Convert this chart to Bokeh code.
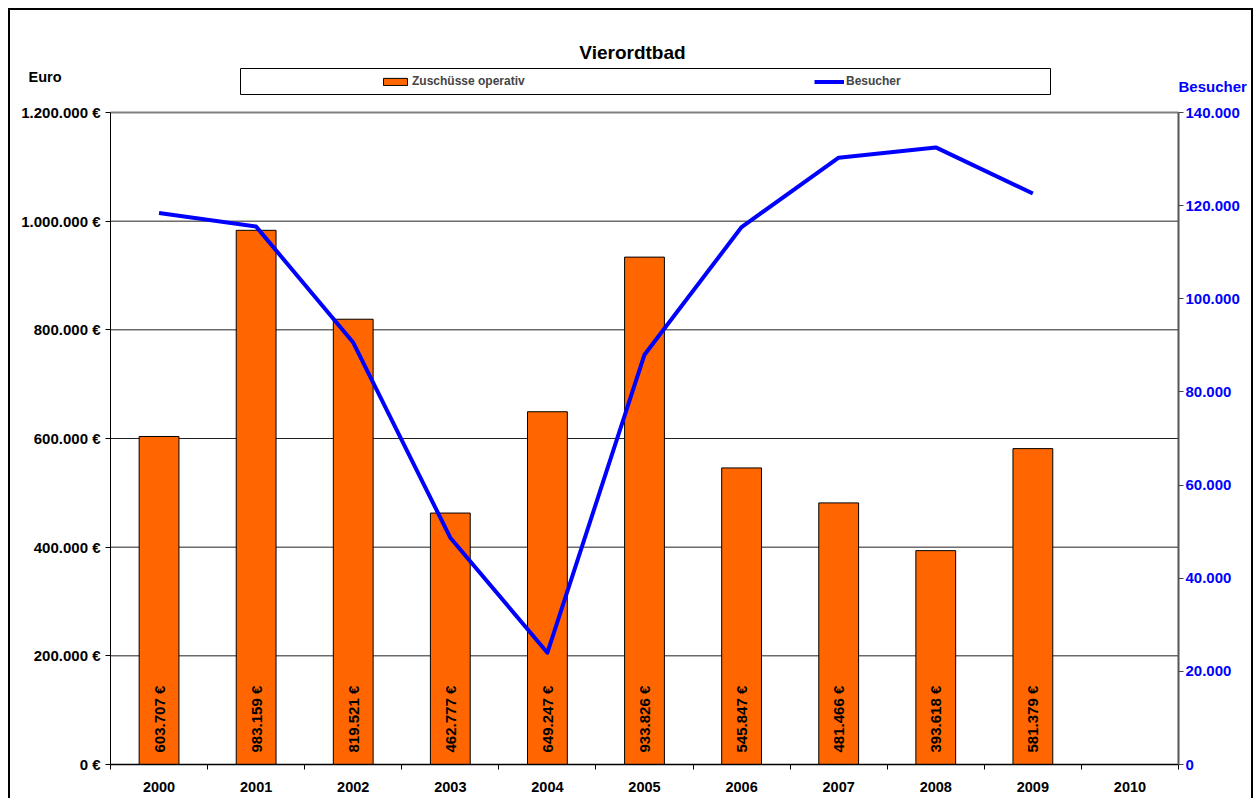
import math
from bokeh.plotting import figure
from bokeh.models import (Range1d, LinearAxis, FixedTicker, ColumnDataSource, Label,
                          BoxAnnotation, Legend, LegendItem)
from bokeh.core.properties import value
from bokeh.embed import file_html
from bokeh.resources import INLINE

# ---------------- data ----------------
years = ["2000", "2001", "2002", "2003", "2004", "2005", "2006", "2007", "2008", "2009", "2010"]
zuschuesse = [603707, 983159, 819521, 462777, 649247, 933826, 545847, 481466, 393618, 581379]
besucher = [118400, 115500, 90600, 48700, 24000, 88000, 115400, 130300, 132500, 122600]
euro_ticks = [0, 200000, 400000, 600000, 800000, 1000000, 1200000]
besucher_ticks = [0, 20000, 40000, 60000, 80000, 100000, 120000, 140000]

FONT = "Liberation Sans"
BLUE = "#0000FF"
ORANGE = "#FF6600"

# ---------------- layout (page pixels) ----------------
CANVAS_L, CANVAS_T, CANVAS_R, CANVAS_B = 10, 10, 1255, 800
W, H = CANVAS_R - CANVAS_L, CANVAS_B - CANVAS_T
PLOT_L, PLOT_R, PLOT_T, PLOT_B = 110, 1178, 112, 764
EURO_MAX = euro_ticks[-1]
VIS_MAX = besucher_ticks[-1]
n = len(years)
px_per_x = (PLOT_R - PLOT_L) / n


def dx(px):
    return -0.5 + (px - PLOT_L) / px_per_x


def dy(py):
    return EURO_MAX * (PLOT_B - py) / (PLOT_B - PLOT_T)


def dv(py):
    return VIS_MAX * (PLOT_B - py) / (PLOT_B - PLOT_T)


def de(v):
    return f"{v:,}".replace(",", ".")


idx = list(range(n))
bar_src = ColumnDataSource(dict(
    x=idx[:len(zuschuesse)],
    top=zuschuesse,
    lab=[de(v) + " €" for v in zuschuesse],
))
line_src = ColumnDataSource(dict(x=idx[:len(besucher)], y=besucher))
grid_src = ColumnDataSource(dict(y=euro_ticks[1:-1]))
top_src = ColumnDataSource(dict(y=euro_ticks[-1:]))

p = figure(width=W, height=H, output_backend="svg", toolbar_location=None,
           x_range=Range1d(dx(CANVAS_L), dx(CANVAS_R)),
           y_range=Range1d(dy(CANVAS_B), dy(CANVAS_T)),
           min_border_left=0, min_border_right=0, min_border_top=0, min_border_bottom=0,
           styles={"border-top": "2px solid black", "border-left": "2px solid black",
                   "border-right": "2px solid black",
                   "margin-left": "8px", "margin-top": "8px"})
p.background_fill_color = "white"
p.border_fill_color = "white"
p.outline_line_color = None
p.extra_y_ranges = {"vis": Range1d(dv(CANVAS_B), dv(CANVAS_T))}

# grid lines (drawn over the category span only)
p.xgrid.visible = False
p.ygrid.visible = False
p.segment(x0=-0.5, x1=n - 0.5, y0="y", y1="y", source=grid_src,
          line_color="#222222", line_width=1, level="underlay")
p.segment(x0=-0.5, x1=n - 0.5, y0="y", y1="y", source=top_src,
          line_color="#808080", line_width=2, level="underlay")

# bars
bars = p.vbar(x="x", top="top", width=0.41, source=bar_src, fill_color=ORANGE,
              line_color="black", line_width=1)
# bar labels
p.text(x="x", y=0, text="lab", source=bar_src, angle=math.pi / 2,
       text_align="left", text_baseline="middle", y_offset=-12,
       text_font=value(FONT), text_font_size="15px", text_font_style="bold",
       text_color="black")

# line
ln = p.line(x="x", y="y", source=line_src, y_range_name="vis", line_color=BLUE,
            line_width=4, line_join="round")

# axes
xa = p.xaxis[0]
xa.fixed_location = 0
xa.bounds = (-0.5, n - 0.5)
xa.ticker = FixedTicker(ticks=idx, minor_ticks=[i - 0.5 for i in idx] + [n - 0.5])
xa.major_label_overrides = {i: y for i, y in enumerate(years)}
xa.major_tick_out = 0
xa.major_tick_in = 0
xa.minor_tick_out = 5
xa.minor_tick_in = 0
xa.minor_tick_line_color = "black"
xa.axis_line_color = "black"
xa.axis_line_width = 1.5
xa.major_label_standoff = 12
xa.major_label_text_font = FONT
xa.major_label_text_font_size = "14.5px"
xa.major_label_text_font_style = "bold"
xa.major_label_text_color = "black"

ya = p.yaxis[0]
ya.fixed_location = -0.5
ya.bounds = (0, EURO_MAX)
ya.ticker = FixedTicker(ticks=euro_ticks)
ya.major_label_overrides = {t: de(t) + " €" for t in euro_ticks}
ya.minor_tick_line_color = None
ya.major_tick_out = 5
ya.major_tick_in = 0
ya.major_tick_line_color = "black"
ya.axis_line_color = "black"
ya.axis_line_width = 1
ya.major_label_standoff = 5
ya.major_label_text_font = FONT
ya.major_label_text_font_size = "15px"
ya.major_label_text_font_style = "bold"
ya.major_label_text_color = "black"

ra = LinearAxis(y_range_name="vis", ticker=FixedTicker(ticks=besucher_ticks),
                bounds=(0, VIS_MAX), fixed_location=n - 0.5)
ra.major_label_overrides = {t: de(t) for t in besucher_ticks}
ra.minor_tick_line_color = None
ra.major_tick_out = 5
ra.major_tick_in = 0
ra.major_tick_line_color = "#444444"
ra.axis_line_color = "#555555"
ra.axis_line_width = 2
ra.major_label_standoff = 2
ra.major_label_text_font = FONT
ra.major_label_text_font_size = "15px"
ra.major_label_text_font_style = "bold"
ra.major_label_text_color = BLUE
p.add_layout(ra, "right")

# texts
p.add_layout(Label(x=dx(632), y=dy(52), text="Vierordtbad",
                   text_align="center", text_baseline="middle", text_font=FONT,
                   text_font_size="19px", text_font_style="bold", text_color="black"))
p.add_layout(Label(x=dx(28), y=dy(76), text="Euro",
                   text_align="left", text_baseline="middle", text_font=FONT,
                   text_font_size="14.5px", text_font_style="bold", text_color="black"))
p.add_layout(Label(x=dx(1178), y=dy(86), text="Besucher",
                   text_align="left", text_baseline="middle", text_font=FONT,
                   text_font_size="15px", text_font_style="bold", text_color=BLUE))

# legend box
p.add_layout(BoxAnnotation(left=dx(240), right=dx(1050), bottom=dy(94), top=dy(68),
                           fill_color="white", fill_alpha=1.0,
                           line_color="black", line_width=1, line_alpha=1.0, level="underlay"))

legend = Legend(items=[LegendItem(label="Zuschüsse operativ", renderers=[bars]),
                       LegendItem(label="Besucher", renderers=[ln])],
                location=(383 - CANVAS_L - 3, CANVAS_B - 91), orientation="horizontal",
                glyph_width=30, glyph_height=9, label_standoff=2, label_width=300,
                spacing=102, padding=0, margin=0, border_line_color=None,
                background_fill_alpha=0.0, label_text_font=FONT,
                label_text_font_size="12px", label_text_font_style="bold",
                label_height=20)
p.add_layout(legend, "center")

open("out.html", "w").write(file_html(p, INLINE))
